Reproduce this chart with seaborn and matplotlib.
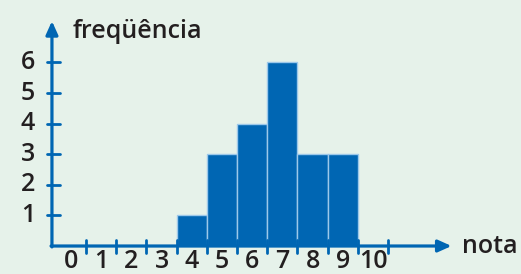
import numpy as np
import pandas as pd
import matplotlib
matplotlib.use('Agg')
import matplotlib.pyplot as plt
import seaborn as sns

# data
notas = [0, 1, 2, 3, 4, 5, 6, 7, 8, 9, 10]
frequencias = [0, 0, 0, 0, 1, 3, 4, 6, 3, 3, 0]
y_ticks = [1, 2, 3, 4, 5, 6]

bg = '#e6f2ea'
blue = '#0066b3'
edge = '#9cc8ea'
ink = '#231f20'

sns.set_style('white')
plt.rcParams['font.family'] = ['Open Sans', 'DejaVu Sans']

df = pd.DataFrame({'nota': notas, 'freq': frequencias})

fig = plt.figure(figsize=(5.21, 2.74), dpi=100, facecolor=bg)
ax = fig.add_axes([0, 0, 1, 1])
ax.set_facecolor(bg)

sns.barplot(data=df, x='nota', y='freq', order=notas, color=blue,
            saturation=1, width=1, edgecolor=edge, linewidth=1, ax=ax, zorder=2)

ax.set_xlim(-2.35, 14.9)
ax.set_ylim(-0.915, 8.04)
ax.axis('off')

axis_x = -0.63
arrow = dict(arrowstyle='-|>,head_length=0.8,head_width=0.36', lw=2.3,
             color=blue, shrinkA=0, shrinkB=0)
ax.annotate('', xy=(axis_x, 7.35), xytext=(axis_x, -0.03), arrowprops=arrow, zorder=3)
ax.annotate('', xy=(12.6, 0), xytext=(axis_x - 0.03, 0), arrowprops=arrow, zorder=3)

# tick marks at class boundaries
for n in notas:
    ax.plot([n + 0.5, n + 0.5], [-0.22, 0.2], color=blue, lw=2, zorder=3)
for t in y_ticks:
    ax.plot([-0.8, -0.36], [t, t], color=blue, lw=2, zorder=3)
    ax.text(-1.42, t, str(t), ha='center', va='center', fontsize=18,
            fontweight='semibold', color=ink)

for n in notas:
    ax.text(n, -0.73, str(n), ha='center', va='baseline', fontsize=18,
            fontweight='semibold', color=ink)

ax.text(0.05, 6.8, 'freqüência', ha='left', va='baseline', fontsize=18,
        fontweight='semibold', color=ink)
ax.text(12.95, -0.23, 'nota', ha='left', va='baseline', fontsize=18,
        fontweight='semibold', color=ink)

fig.savefig('out.png', dpi=100, facecolor=bg)
